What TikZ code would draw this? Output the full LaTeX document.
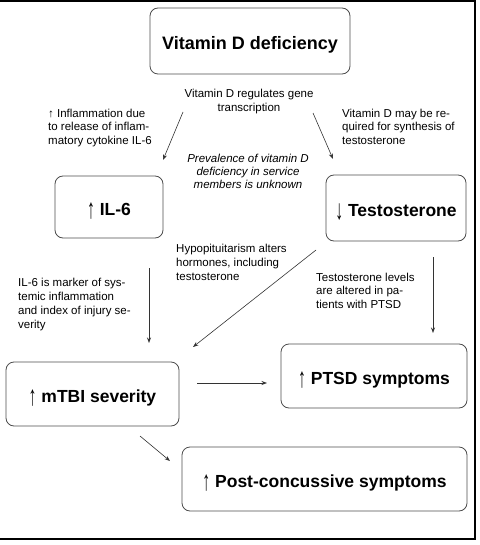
\documentclass[tikz,border=0pt]{standalone}
\usepackage{fontspec}
\usepackage{graphicx}
\setmainfont{Liberation Sans}
\usetikzlibrary{arrows.meta}
\newcommand\myup{\raisebox{-3pt}{\scalebox{0.9}[1.6]{\mdseries↑}}}
\newcommand\mydown{\raisebox{-3pt}{\scalebox{0.9}[1.6]{\mdseries↓}}}
\begin{document}
\begin{tikzpicture}[x=1pt,y=-1pt,
  box/.style={draw=black!70, line width=0.8pt, rounded corners=8pt, inner sep=0pt,
    font=\fontsize{17.5}{20}\selectfont\bfseries, text height=16.5pt, text depth=0pt},
  note/.style={inner sep=0pt, font=\fontsize{11.5}{13.8}\selectfont, align=left},
  link/.style={draw=black!80, line width=0.6pt, -{Stealth[length=5.5pt,width=4pt]}},
  frameline/.style={line width=2pt}]
\useasboundingbox (0,0) rectangle (479,545);
\draw[frameline] (0,0.8) -- (475,0.8) -- (475,539) -- (0,539);

% boxes
\node[box, font=\fontsize{18}{21}\selectfont\bfseries, minimum width=200pt, minimum height=66pt] (vitd) at (250,41) {Vitamin D deficiency};
\node[box, minimum width=108pt, minimum height=62pt] (il6) at (109,207) {\myup\ IL-6};
\node[box, minimum width=140pt, minimum height=66pt] (test) at (396,208) {\mydown\ Testosterone};
\node[box, minimum width=173pt, minimum height=64pt] (mtbi) at (92.5,394) {\myup\ mTBI severity};
\node[box, minimum width=186pt, minimum height=64pt] (ptsd) at (374,376) {\myup\ PTSD symptoms};
\node[box, minimum width=285pt, minimum height=64pt] (post) at (324.5,479) {\myup\ Post-concussive symptoms};

% notes
\node[note, align=center, anchor=north, font=\fontsize{11.5}{14.5}\selectfont] (n1) at (249,88.6) {Vitamin D regulates gene\\transcription};
\node[note, anchor=north west] (n2) at (48,108.6) {↑ Inflammation due\\to release of inflam-\\matory cytokine IL-6};
\node[note, anchor=north west] (n3) at (342,108.6) {Vitamin D may be re-\\quired for synthesis of\\testosterone};
\node[note, align=center, anchor=north, font=\fontsize{11.5}{13}\selectfont\itshape] (n4) at (248,153.6) {Prevalence of vitamin D\\deficiency in service\\members is unknown};
\node[note, anchor=north west] (n5) at (176,244.3) {Hypopituitarism alters\\hormones, including\\testosterone};
\node[note, anchor=north west, font=\fontsize{11.5}{14.1}\selectfont] (n6) at (18,277.6) {IL-6 is marker of sys-\\temic inflammation\\and index of injury se-\\verity};
\node[note, anchor=north west, font=\fontsize{11.5}{13.5}\selectfont] (n7) at (316,272.6) {Testosterone levels\\are altered in pa-\\tients with PTSD};

% connector ends
\coordinate (a1s) at (183,112); \coordinate (a1e) at (163,160);
\coordinate (a2s) at (313,113); \coordinate (a2e) at (333,159);
\coordinate (a3s) at (149,268); \coordinate (a3e) at (149,343);
\coordinate (a4s) at (316,250); \coordinate (a4e) at (193,347);
\coordinate (a5s) at (433,257); \coordinate (a5e) at (433,333);
\coordinate (a6s) at (197,383); \coordinate (a6e) at (267,383);
\coordinate (a7s) at (140,436); \coordinate (a7e) at (170,461);

\draw[link] (a1s) -- (a1e);
\draw[link] (a2s) -- (a2e);
\draw[link] (a3s) -- (a3e);
\draw[link] (a4s) -- (a4e);
\draw[link] (a5s) -- (a5e);
\draw[link] (a6s) -- (a6e);
\draw[link] (a7s) -- (a7e);
\end{tikzpicture}
\end{document}
